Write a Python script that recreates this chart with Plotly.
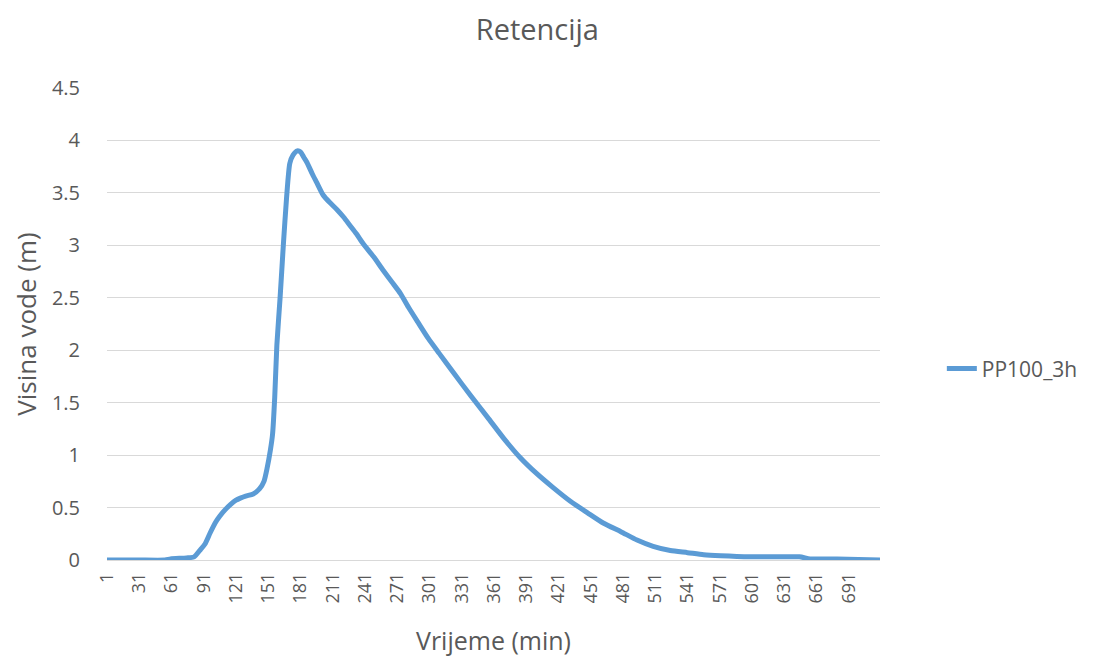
import plotly.graph_objects as go

# Retencija - water level readings (minute, height in m)
minute = [1, 30, 55, 60, 75, 82, 88, 92, 97, 102, 106, 111, 116, 121, 125, 130,
          137, 143, 147, 150, 153, 155, 157, 159, 162, 165, 168, 171, 174, 178,
          181, 184, 187, 192, 196, 202, 208, 215, 221, 227, 233, 239, 249, 258,
          266, 274, 282, 290, 300, 310, 323, 339, 355, 370, 385, 400, 416, 432,
          448, 463, 479, 494, 509, 525, 541, 556, 572, 600, 645, 655, 680, 720]
visina = [0, 0, 0, 0.01, 0.02, 0.03, 0.1, 0.15, 0.26, 0.36, 0.42, 0.48, 0.53, 0.57, 0.59, 0.61,
          0.63, 0.68, 0.75, 0.88, 1.05, 1.2, 1.55, 2.05, 2.5, 3.0, 3.45, 3.78, 3.86, 3.9,
          3.89, 3.84, 3.79, 3.68, 3.6, 3.48, 3.41, 3.34, 3.27, 3.19, 3.11, 3.02, 2.89, 2.76,
          2.65, 2.54, 2.4, 2.27, 2.11, 1.97, 1.79, 1.57, 1.36, 1.16, 0.98, 0.83, 0.69, 0.56,
          0.45, 0.35, 0.27, 0.19, 0.13, 0.09, 0.07, 0.05, 0.04, 0.03, 0.03, 0.01, 0.01, 0]

tick_minutes = list(range(1, 692, 30))
tick_text = [str(t) for t in tick_minutes]

grey = "#595959"
font_family = "Open Sans, Liberation Sans, sans-serif"

fig = go.Figure()
fig.add_trace(go.Scatter(x=minute, y=visina, mode="lines", name="PP100_3h",
                         line=dict(color="#5B9BD5", width=5, shape="spline", smoothing=0.6)))

# page body adds 8px offset, margins compensate
fig.update_layout(
    width=1096, height=665,
    paper_bgcolor="white", plot_bgcolor="white",
    margin=dict(l=99, r=224, t=80, b=113),
    font=dict(family=font_family, color=grey, size=15),
    title=dict(text="Retencija", x=0.483, xanchor="center", y=0.983, yanchor="top",
               font=dict(size=29, color=grey)),
    showlegend=True,
    legend=dict(x=1.08, y=0.405, xanchor="left", yanchor="middle",
                font=dict(size=21, color=grey), bgcolor="rgba(0,0,0,0)"),
)
fig.update_xaxes(range=[1, 720], tickmode="array", tickvals=tick_minutes, ticktext=tick_text,
                 tickangle=-90, showgrid=False, zeroline=False, showline=False,
                 ticks="", ticklabelstandoff=8, tickfont=dict(size=18, color=grey),
                 automargin=False,
                 title=dict(text="Vrijeme (min)", font=dict(size=25, color=grey), standoff=30))
fig.update_yaxes(range=[0, 4.5], dtick=0.5, tickformat="~g", showgrid=True, gridcolor="#D9D9D9",
                 gridwidth=1.3, zeroline=True, zerolinecolor="#D9D9D9", zerolinewidth=1.3,
                 ticks="", ticklabelstandoff=26, tickfont=dict(size=20, color=grey),
                 automargin=False,
                 title=dict(text="Visina vode (m)", font=dict(size=26, color=grey), standoff=8))

fig.write_html("out.html")
